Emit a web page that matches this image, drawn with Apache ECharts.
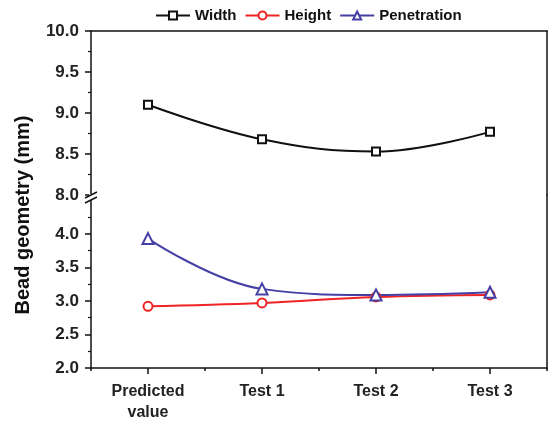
<!DOCTYPE html>
<html>
<head>
<meta charset="utf-8">
<script src="https://cdn.jsdelivr.net/npm/echarts@6/dist/echarts.min.js"></script>
<style>
  html, body { margin: 0; padding: 0; background: #ffffff; }
  #chart { width: 553px; height: 422px; }
</style>
</head>
<body>
<div id="chart"></div>
<script>
// Categories along the x axis
const categories = ['Predicted\nvalue', 'Test 1', 'Test 2', 'Test 3'];

// Bead geometry (mm)
const widthValues = [9.10, 8.68, 8.53, 8.77];
const heightValues = [2.92, 2.97, 3.06, 3.09];
const penetrationValues = [3.93, 3.18, 3.09, 3.13];

// Tick labels of the two y-axis segments
const upperTicks = [8.0, 8.5, 9.0, 9.5, 10.0];
const lowerTicks = [2.0, 2.5, 3.0, 3.5, 4.0];

const FONT = '"Liberation Sans", Arial, sans-serif';
const AXIS_COLOR = '#111';

const gridLeft = 91, gridRight = 6;
const upperTop = 31, upperHeight = 164;
const lowerBottom = 54;
const lowerMax = 4.58;

const chart = echarts.init(document.getElementById('chart'));

const yLabel = {
  color: '#222', fontFamily: FONT, fontWeight: 'bold', fontSize: 17, margin: 12,
  formatter: v => v.toFixed(1)
};
const tickStyle = { lineStyle: { color: AXIS_COLOR, width: 1.5 } };

function sideAxis(gridIndex, min, max) {
  return {
    type: 'value', gridIndex, position: 'right', min, max,
    axisLine: { show: true, lineStyle: { color: AXIS_COLOR, width: 1.5 } },
    axisTick: { show: false }, axisLabel: { show: false }, splitLine: { show: false }
  };
}

const option = {
  backgroundColor: '#ffffff',
  animation: false,
  legend: {
    top: 3, left: 150,
    itemWidth: 34, itemHeight: 10, itemGap: 8,
    textStyle: { fontFamily: FONT, fontWeight: 'bold', fontSize: 15, color: '#111' },
    data: ['Width', 'Height', 'Penetration']
  },
  grid: [
    { left: gridLeft, right: gridRight, top: upperTop, height: upperHeight, outerBoundsMode: 'none' },
    { left: gridLeft, right: gridRight, top: upperTop + upperHeight, bottom: lowerBottom, outerBoundsMode: 'none' }
  ],
  xAxis: [
    {
      type: 'category', gridIndex: 0, position: 'top', data: categories,
      axisLine: { show: true, lineStyle: { color: AXIS_COLOR, width: 1.5 } },
      axisTick: { show: false }, axisLabel: { show: false }
    },
    {
      type: 'category', gridIndex: 1, position: 'bottom', data: categories,
      axisLine: { show: true, lineStyle: { color: AXIS_COLOR, width: 1.5 } },
      axisTick: { show: true, alignWithLabel: true, length: 6, ...tickStyle },
      axisLabel: {
        color: '#222', fontFamily: FONT, fontWeight: 'bold', fontSize: 16,
        margin: 13, lineHeight: 21
      }
    },
    {
      type: 'category', gridIndex: 1, position: 'bottom', data: categories,
      axisLine: { show: false },
      axisTick: { show: true, length: 3, ...tickStyle },
      axisLabel: { show: false }
    }
  ],
  yAxis: [
    {
      type: 'value', gridIndex: 0, position: 'left', min: 8, max: 10, interval: 0.5,
      axisLine: { show: true, lineStyle: { color: AXIS_COLOR, width: 1.5 } },
      axisTick: { show: true, length: 6, ...tickStyle },
      minorTick: { show: true, splitNumber: 2, length: 3, lineStyle: { color: AXIS_COLOR, width: 1.2 } },
      axisLabel: { ...yLabel, customValues: upperTicks },
      splitLine: { show: false }
    },
    sideAxis(0, 8, 10),
    {
      type: 'value', gridIndex: 1, position: 'left', min: 2, max: lowerMax, interval: 0.5,
      axisLine: { show: true, lineStyle: { color: AXIS_COLOR, width: 1.5 } },
      axisTick: { show: true, length: 6, customValues: lowerTicks, ...tickStyle },
      minorTick: { show: true, splitNumber: 2, length: 3, lineStyle: { color: AXIS_COLOR, width: 1.2 } },
      axisLabel: { ...yLabel, customValues: lowerTicks },
      splitLine: { show: false }
    },
    sideAxis(1, 2, lowerMax)
  ],
  series: [
    {
      name: 'Width', type: 'line', xAxisIndex: 0, yAxisIndex: 0,
      data: widthValues, smooth: 0.4,
      symbol: 'rect', symbolSize: 8,
      lineStyle: { color: '#111', width: 2 },
      itemStyle: { color: '#ffffff', borderColor: '#111', borderWidth: 2 }
    },
    {
      name: 'Height', type: 'line', xAxisIndex: 1, yAxisIndex: 2,
      data: heightValues, smooth: 0.4,
      symbol: 'circle', symbolSize: 9,
      lineStyle: { color: '#ee2424', width: 2 },
      itemStyle: { color: '#ffffff', borderColor: '#ee2424', borderWidth: 2 }
    },
    {
      name: 'Penetration', type: 'line', xAxisIndex: 1, yAxisIndex: 2,
      data: penetrationValues, smooth: 0.4,
      symbol: 'triangle', symbolSize: 11,
      lineStyle: { color: '#4640a6', width: 2 },
      itemStyle: { color: '#ffffff', borderColor: '#4640a6', borderWidth: 2 }
    }
  ]
};

chart.setOption(option);

// Axis break marker and rotated axis title
const breakY = upperTop + upperHeight;
chart.setOption({
  graphic: [
    {
      type: 'rect', silent: true, z: 100,
      shape: { x: gridLeft - 2, y: breakY - 1, width: 4, height: 6 },
      style: { fill: '#ffffff' }
    },
    {
      type: 'line', silent: true, z: 101,
      shape: { x1: gridLeft - 6, y1: breakY + 3, x2: gridLeft + 6, y2: breakY - 3 },
      style: { stroke: AXIS_COLOR, lineWidth: 1.5 }
    },
    {
      type: 'line', silent: true, z: 101,
      shape: { x1: gridLeft - 6, y1: breakY + 8, x2: gridLeft + 6, y2: breakY + 2 },
      style: { stroke: AXIS_COLOR, lineWidth: 1.5 }
    },
    {
      type: 'text', silent: true, z: 100,
      x: 23, y: 215, rotation: Math.PI / 2,
      style: {
        text: 'Bead geometry (mm)', fill: '#111',
        font: 'bold 20px ' + FONT, align: 'center', verticalAlign: 'middle'
      }
    }
  ]
});
</script>
</body>
</html>
